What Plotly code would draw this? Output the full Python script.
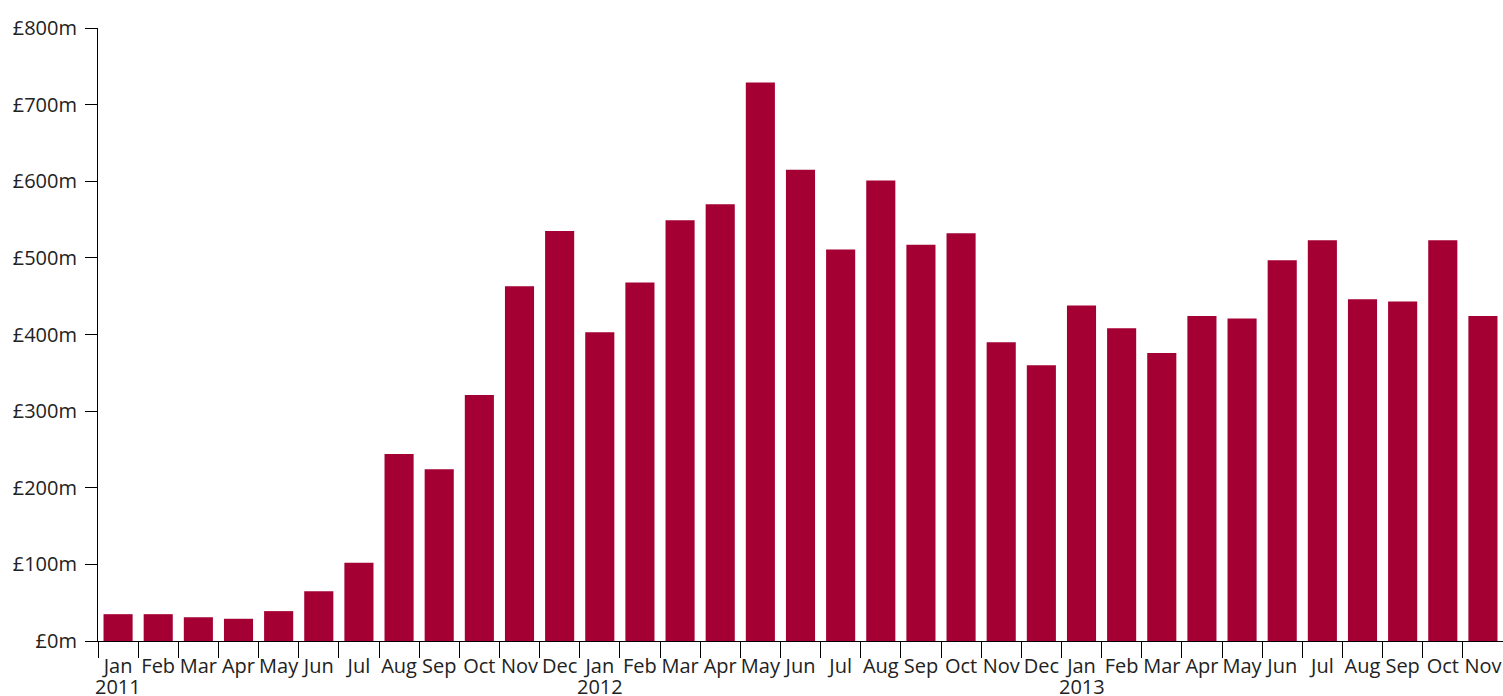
import plotly.graph_objects as go

months = ["Jan", "Feb", "Mar", "Apr", "May", "Jun", "Jul", "Aug", "Sep", "Oct", "Nov", "Dec"]
years = [2011, 2012, 2013]
values = [35, 35, 31, 29, 39, 65, 102, 244, 224, 321, 463, 535,
          403, 468, 549, 570, 729, 615, 511, 601, 517, 532, 390, 360,
          438, 408, 376, 424, 421, 497, 523, 446, 443, 523, 424]
y_ticks = [0, 100, 200, 300, 400, 500, 600, 700, 800]
y_tick_labels = ["£%dm" % v for v in y_ticks]

categories = []
x_labels = []
for i in range(len(values)):
    m = months[i % 12]
    y = years[i // 12]
    categories.append("%s %d" % (m, y))
    x_labels.append(m)

fig = go.Figure(go.Bar(x=categories, y=values, marker_color="#A50034",
                       marker_line_width=0))

for y in years:
    fig.add_annotation(x="Jan %d" % y, y=0, yref="y", text=str(y),
                       showarrow=False, yanchor="top", yshift=-30,
                       font=dict(family="Open Sans", size=20, color="#222"))

fig.update_layout(
    width=1503, height=696,
    margin=dict(l=98, r=0, t=28, b=55, autoexpand=False),
    paper_bgcolor="white", plot_bgcolor="white",
    font=dict(family="Open Sans", size=20, color="#222"),
    bargap=0.275,
    showlegend=False,
)
fig.update_xaxes(
    type="category", range=[-0.5, len(values) - 0.5],
    tickmode="array", tickvals=categories, ticktext=x_labels,
    tickson="boundaries", ticks="outside", ticklen=16, tickcolor="#000",
    showline=True, linecolor="#000", linewidth=1, showgrid=False,
    tickangle=0, automargin=False, ticklabelstandoff=7,
)
fig.update_yaxes(
    range=[0, 800], tickmode="array", tickvals=y_ticks, ticktext=y_tick_labels,
    ticks="outside", ticklen=12, tickcolor="#000", showline=True,
    linecolor="#000", linewidth=1, showgrid=False, zeroline=False,
    ticklabelstandoff=4, automargin=False,
)
fig.write_html(
    "out.html",
    config={"displayModeBar": False},
    post_script="document.body.style.margin='0';document.body.style.overflow='hidden';",
)
